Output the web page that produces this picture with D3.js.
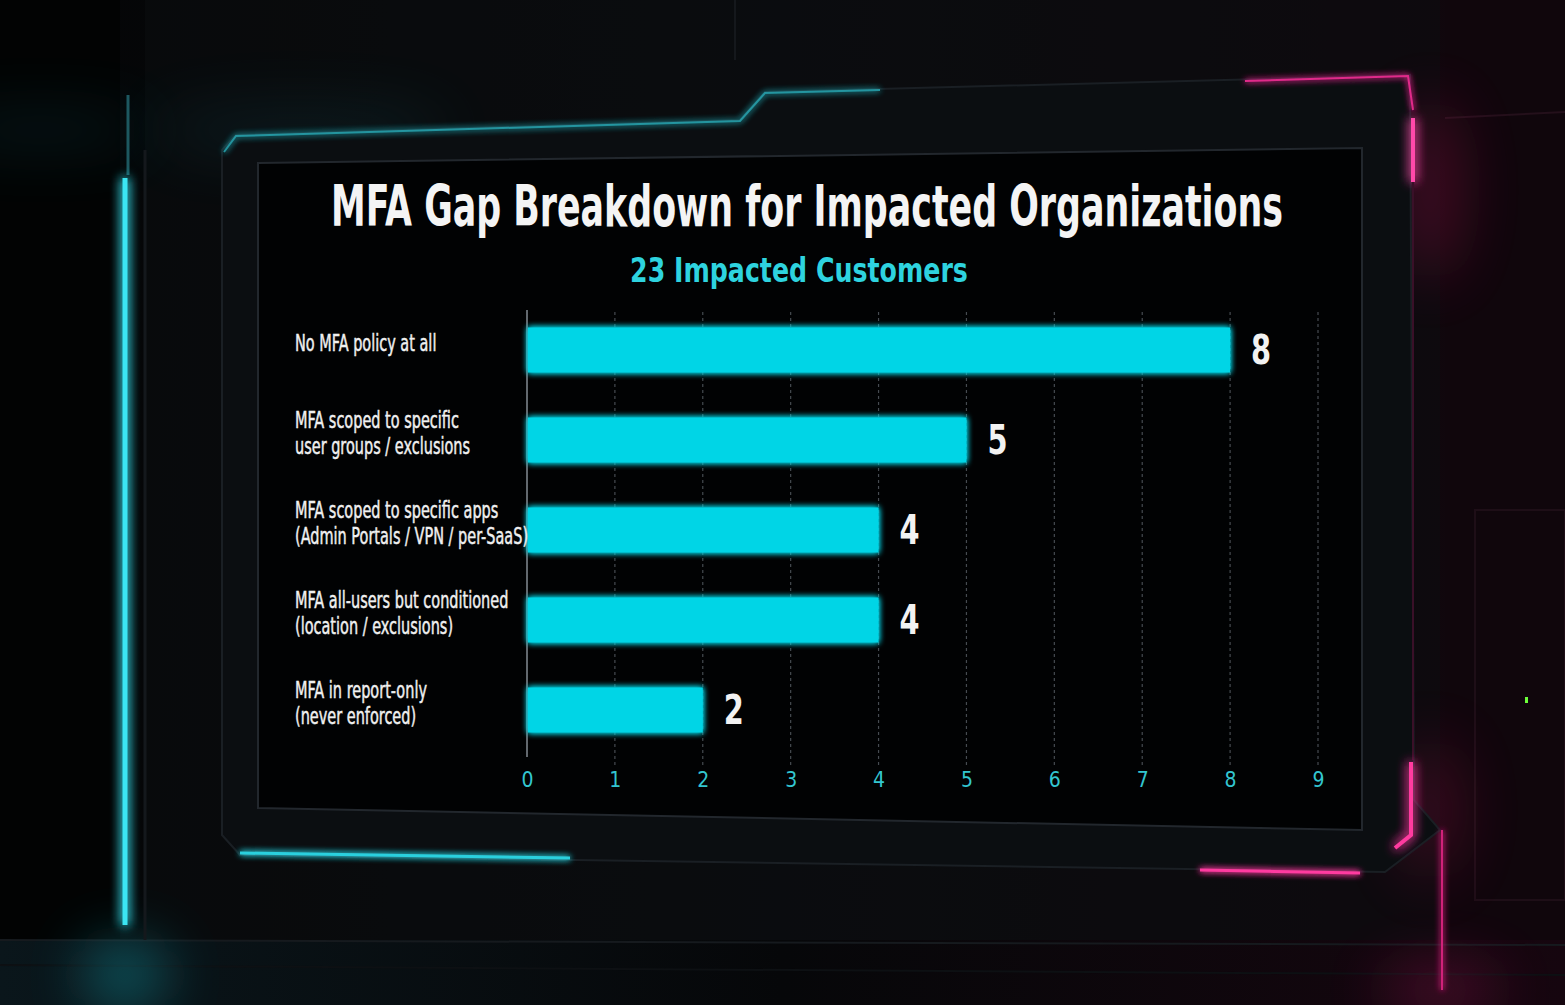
<!DOCTYPE html>
<html><head><meta charset="utf-8">
<script src="https://cdn.jsdelivr.net/npm/d3@7"></script>
<style>
html,body{margin:0;padding:0;background:#05070a;overflow:hidden;}
svg{display:block;}
</style></head>
<body>
<svg id="c" width="1565" height="1005"></svg>
<script>
// ---- data ----
const categories = [
  "No MFA policy at all",
  "MFA scoped to specific\nuser groups / exclusions",
  "MFA scoped to specific apps\n(Admin Portals / VPN / per-SaaS)",
  "MFA all-users but conditioned\n(location / exclusions)",
  "MFA in report-only\n(never enforced)"
];
const values = [8, 5, 4, 4, 2];
const tickValues = [0, 1, 2, 3, 4, 5, 6, 7, 8, 9];
const titleText = "MFA Gap Breakdown for Impacted Organizations";
const subtitleText = "23 Impacted Customers";

const W = 1565, H = 1005;
const svg = d3.select("#c");
const defs = svg.append("defs");
const COND = "'DejaVu Sans Condensed','Liberation Sans Narrow','Roboto Condensed','Arial Narrow',sans-serif";

// glow filters (user space so zero-width lines still render)
function glow(id, std) {
  const f = defs.append("filter").attr("id", id).attr("filterUnits", "userSpaceOnUse")
    .attr("x", 0).attr("y", 0).attr("width", W).attr("height", H);
  f.append("feGaussianBlur").attr("in", "SourceGraphic").attr("stdDeviation", std).attr("result", "b");
  const m = f.append("feMerge");
  m.append("feMergeNode").attr("in", "b");
  m.append("feMergeNode").attr("in", "b");
  m.append("feMergeNode").attr("in", "SourceGraphic");
}
glow("g1", 6); glow("g2", 3);
const blur = defs.append("filter").attr("id", "bl").attr("filterUnits", "userSpaceOnUse")
  .attr("x", 0).attr("y", 0).attr("width", W).attr("height", H);
blur.append("feGaussianBlur").attr("stdDeviation", 30);

// background gradients
const bgG = defs.append("linearGradient").attr("id", "bg").attr("x1", 0).attr("x2", 1).attr("y1", 0).attr("y2", 0);
bgG.append("stop").attr("offset", 0).attr("stop-color", "#040506");
bgG.append("stop").attr("offset", 0.5).attr("stop-color", "#090b0e");
bgG.append("stop").attr("offset", 0.85).attr("stop-color", "#0e070c");
bgG.append("stop").attr("offset", 1).attr("stop-color", "#12060d");
svg.append("rect").attr("width", W).attr("height", H).attr("fill", "url(#bg)");

// wall panels
const deco = svg.append("g");
deco.append("rect").attr("x", 0).attr("y", 0).attr("width", 120).attr("height", 940).attr("fill", "#020303");
deco.append("rect").attr("x", 145).attr("y", 0).attr("width", 1295).attr("height", 940).attr("fill", "#0b0d10").attr("opacity", 0.5);
deco.append("line").attr("x1", 735).attr("y1", 0).attr("x2", 735).attr("y2", 60).attr("stroke", "#15181c").attr("stroke-width", 2);
deco.append("rect").attr("x", 1445).attr("y", 0).attr("width", 120).attr("height", 940).attr("fill", "#10060c");
deco.append("line").attr("x1", 1445).attr("y1", 118).attr("x2", 1565).attr("y2", 112).attr("stroke", "#24101b").attr("stroke-width", 2);
deco.append("rect").attr("x", 1475).attr("y", 510).attr("width", 90).attr("height", 390).attr("fill", "none").attr("stroke", "#1e0e17").attr("stroke-width", 2);
deco.append("rect").attr("x", 1525).attr("y", 697).attr("width", 3).attr("height", 6).attr("fill", "#6cff3a");

// floor
const floorG = defs.append("linearGradient").attr("id", "fl").attr("x1", 0).attr("x2", 1);
floorG.append("stop").attr("offset", 0).attr("stop-color", "#0a161b");
floorG.append("stop").attr("offset", 0.5).attr("stop-color", "#060709");
floorG.append("stop").attr("offset", 1).attr("stop-color", "#16060f");
deco.append("rect").attr("x", 0).attr("y", 940).attr("width", W).attr("height", 65).attr("fill", "url(#fl)");
deco.append("line").attr("x1", 0).attr("y1", 940).attr("x2", W).attr("y2", 945).attr("stroke", "#161a1e").attr("stroke-width", 2);
deco.append("line").attr("x1", 0).attr("y1", 965).attr("x2", W).attr("y2", 975).attr("stroke", "#0d1013").attr("stroke-width", 2);
deco.append("ellipse").attr("cx", 125).attr("cy", 975).attr("rx", 40).attr("ry", 30).attr("fill", "#1fc8d8").attr("opacity", 0.45).attr("filter", "url(#bl)");
deco.append("ellipse").attr("cx", 1440).attr("cy", 990).attr("rx", 60).attr("ry", 20).attr("fill", "#e0207a").attr("opacity", 0.35).attr("filter", "url(#bl)");
deco.append("ellipse").attr("cx", 40).attr("cy", 130).attr("rx", 110).attr("ry", 15).attr("fill", "#1a7a8a").attr("opacity", 0.22).attr("filter", "url(#bl)");
deco.append("ellipse").attr("cx", 1430).attr("cy", 190).attr("rx", 30).attr("ry", 90).attr("fill", "#c0185a").attr("opacity", 0.3).attr("filter", "url(#bl)");
deco.append("ellipse").attr("cx", 1430).attr("cy", 810).attr("rx", 30).attr("ry", 70).attr("fill", "#c0185a").attr("opacity", 0.25).attr("filter", "url(#bl)");
deco.append("ellipse").attr("cx", 300).attr("cy", 130).attr("rx", 150).attr("ry", 25).attr("fill", "#1a7a8a").attr("opacity", 0.15).attr("filter", "url(#bl)");

// left cyan light bar
deco.append("line").attr("x1", 128).attr("y1", 95).attr("x2", 128).attr("y2", 175).attr("stroke", "#1d5860").attr("stroke-width", 3);
deco.append("line").attr("x1", 145).attr("y1", 150).attr("x2", 145).attr("y2", 940).attr("stroke", "#14181c").attr("stroke-width", 3);
deco.append("line").attr("x1", 125).attr("y1", 178).attr("x2", 125).attr("y2", 925).attr("stroke", "#3be6f3").attr("stroke-width", 5).attr("filter", "url(#g1)");

// bezel
deco.append("path")
  .attr("d", "M222,150 L236,135 L740,120 L765,92 L1410,75 L1414,800 L1440,830 L1385,872 L240,855 L222,835 Z")
  .attr("fill", "#0b0e11").attr("stroke", "#1a1f24").attr("stroke-width", 2);
deco.append("path").attr("d", "M224,152 L236,136 L740,121 L765,93 L880,90")
  .attr("fill", "none").attr("stroke", "#2bbfcc").attr("stroke-width", 2).attr("opacity", 0.75).attr("filter", "url(#g2)");
deco.append("path").attr("d", "M240,853 L570,858")
  .attr("fill", "none").attr("stroke", "#2bd0de").attr("stroke-width", 3).attr("filter", "url(#g2)");
deco.append("path").attr("d", "M1245,81 L1408,76 L1413,110")
  .attr("fill", "none").attr("stroke", "#e02a8a").attr("stroke-width", 2).attr("filter", "url(#g2)");
deco.append("line").attr("x1", 1413).attr("y1", 118).attr("x2", 1413).attr("y2", 182).attr("stroke", "#ff4aaa").attr("stroke-width", 4).attr("filter", "url(#g1)");
deco.append("line").attr("x1", 1413).attr("y1", 182).attr("x2", 1413).attr("y2", 760).attr("stroke", "#3a1028").attr("stroke-width", 2);
deco.append("path").attr("d", "M1411,762 L1411,835 L1395,848")
  .attr("fill", "none").attr("stroke", "#ff3aa0").attr("stroke-width", 4).attr("filter", "url(#g1)");
deco.append("path").attr("d", "M1200,870 L1360,873")
  .attr("fill", "none").attr("stroke", "#ff3aa0").attr("stroke-width", 3).attr("filter", "url(#g2)");
deco.append("line").attr("x1", 1442).attr("y1", 830).attr("x2", 1442).attr("y2", 990).attr("stroke", "#d0207a").attr("stroke-width", 2).attr("filter", "url(#g2)");

// screen
deco.append("path").attr("d", "M258,163 L1362,148 L1362,830 L258,808 Z")
  .attr("fill", "#010203").attr("stroke", "#22272d").attr("stroke-width", 2);

// ---- chart ----
const x = d3.scaleLinear().domain([0, 9]).range([527, 1318]);
const y = d3.scaleBand().domain(categories).range([305, 755]).paddingInner(0.5).paddingOuter(0.25);

const chart = svg.append("g");

// gridlines
chart.append("g").selectAll("line").data(tickValues.filter(d => d > 0)).join("line")
  .attr("x1", d => x(d)).attr("x2", d => x(d))
  .attr("y1", 312).attr("y2", 766)
  .attr("stroke", "#464b51").attr("stroke-width", 1.2).attr("stroke-dasharray", "3,3");

// bottom axis (tick labels only)
const xAxis = d3.axisBottom(x).tickValues(tickValues).tickFormat(d3.format("d")).tickSize(0).tickPadding(0);
const ax = chart.append("g").attr("transform", "translate(0,772)").call(xAxis);
ax.select(".domain").remove();
ax.selectAll("text").attr("fill", "#33c6d0").attr("font-family", COND).attr("font-size", 21)
  .attr("dy", "0.7em");

// zero axis line
chart.append("line").attr("x1", x(0)).attr("x2", x(0)).attr("y1", 310).attr("y2", 757)
  .attr("stroke", "#62686e").attr("stroke-width", 2);

// bars
chart.append("g").selectAll("rect").data(values).join("rect")
  .attr("x", x(0) + 1)
  .attr("y", (d, i) => y(categories[i]))
  .attr("width", d => x(d) - x(0) - 1)
  .attr("height", y.bandwidth())
  .attr("fill", "#00d5e6")
  .attr("filter", "url(#g2)");

// value labels (narrowed)
chart.append("g").selectAll("g").data(values).join("g")
  .attr("transform", (d, i) => `translate(${x(d) + 21},${y(categories[i]) + y.bandwidth() / 2}) scale(0.8,1)`)
  .append("text")
  .attr("dy", "0.36em")
  .attr("fill", "#f2f2f2")
  .attr("font-family", COND).attr("font-weight", "bold").attr("font-size", 40)
  .text(d => d);

// category labels (narrowed)
const labG = chart.append("g").selectAll("g").data(categories).join("g")
  .attr("transform", d => `translate(295,${y(d) + y.bandwidth() / 2 - 7}) scale(0.7,1)`);
labG.append("text")
  .attr("fill", "#f0f0f0")
  .attr("stroke", "#f0f0f0").attr("stroke-width", 0.45)
  .attr("font-family", COND).attr("font-size", 23)
  .each(function (d) {
    const lines = d.split("\n");
    const t = d3.select(this);
    lines.forEach((ln, k) => {
      t.append("tspan").attr("x", 0)
        .attr("dy", k === 0 ? ((-(lines.length - 1) / 2) * 1.1 + 0.35) + "em" : "1.1em")
        .text(ln);
    });
  });

// title & subtitle: fitted to target width via horizontal scale
function fitted(txt, cx, by, size, width, color) {
  const g = svg.append("g");
  const t = g.append("text").attr("text-anchor", "middle")
    .attr("fill", color).attr("font-family", COND).attr("font-weight", "bold").attr("font-size", size)
    .text(txt);
  const natural = t.node().getComputedTextLength();
  const s = Math.min(1.2, width / natural);
  g.attr("transform", `translate(${cx},${by}) scale(${s},1)`);
}
fitted(titleText, 807, 226, 57, 952, "#f4f4f4");
fitted(subtitleText, 799, 282, 33, 338, "#2ed3df");
</script>
</body></html>
